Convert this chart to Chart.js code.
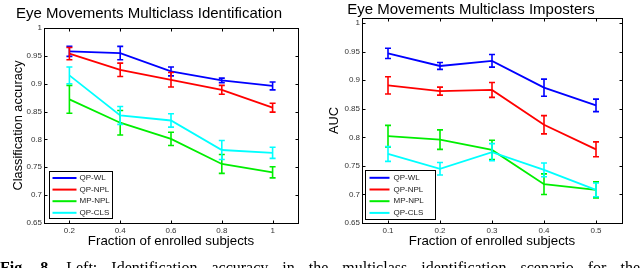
<!DOCTYPE html>
<html><head><meta charset="utf-8">
<script src="https://cdn.jsdelivr.net/npm/chart.js@4.4.1/dist/chart.umd.min.js"></script>
<style>
html,body{margin:0;padding:0;background:#fff;width:640px;height:268px;overflow:hidden;}
canvas{position:absolute;top:0}
#c1{left:0}
#c2{left:320px}
#cap{position:absolute;left:0;top:260px;width:640px;font:16px "Liberation Serif","Times New Roman",serif;line-height:16px;text-align:justify;text-align-last:justify;color:#000;white-space:nowrap}
</style></head>
<body>
<canvas id="c1" width="320" height="268"></canvas>
<canvas id="c2" width="320" height="268"></canvas>
<div id="cap"><b>Fig. 8.</b> Left: Identification accuracy in the multiclass identification scenario for the</div>
<script>
// ---- data: identification (left) ----
const idX = [0.2, 0.4, 0.6, 0.8, 1];
const idXLabels = ['0.2', '0.4', '0.6', '0.8', '1'];
const idQPWL = [0.958, 0.955, 0.922, 0.906, 0.896];
const idQPWLErr = [0.009, 0.012, 0.008, 0.004, 0.007];
const idQPNPL = [0.954, 0.925, 0.907, 0.889, 0.857];
const idQPNPLErr = [0.011, 0.012, 0.013, 0.008, 0.008];
const idMPNPL = [0.872, 0.830, 0.801, 0.756, 0.741];
const idMPNPLErr = [0.025, 0.022, 0.012, 0.017, 0.010];
const idQPCLS = [0.915, 0.843, 0.834, 0.781, 0.776];
const idQPCLSErr = [0.015, 0.016, 0.012, 0.017, 0.010];

// ---- data: imposters (right) ----
const impX = [0.1, 0.2, 0.3, 0.4, 0.5];
const impXLabels = ['0.1', '0.2', '0.3', '0.4', '0.5'];
const impQPWL = [0.947, 0.925, 0.934, 0.887, 0.856];
const impQPWLErr = [0.009, 0.006, 0.011, 0.015, 0.011];
const impQPNPL = [0.891, 0.881, 0.883, 0.822, 0.779];
const impQPNPLErr = [0.015, 0.007, 0.013, 0.016, 0.013];
const impMPNPL = [0.802, 0.796, 0.778, 0.718, 0.708];
const impMPNPLErr = [0.019, 0.017, 0.017, 0.018, 0.014];
const impQPCLS = [0.771, 0.745, 0.774, 0.743, 0.708];
const impQPCLSErr = [0.013, 0.011, 0.015, 0.012, 0.012];

// ---- shared ----
const seriesLabels = ['QP-WL', 'QP-NPL', 'MP-NPL', 'QP-CLS'];
const yTicks = [0.65, 0.7, 0.75, 0.8, 0.85, 0.9, 0.95, 1];
const yTickLabels = ['0.65', '0.7', '0.75', '0.8', '0.85', '0.9', '0.95', '1'];
const colors = ['#0000ff', '#ff0000', '#00ee00', '#00ffff'];

const SANS = '"Liberation Sans", Arial, sans-serif';

const framePlugin = {
  id: 'frame',
  afterDatasetsDraw(chart) {
    const {ctx, chartArea: a, scales: {x, y}} = chart;
    const lg = chart.options.plugins.frameLegend;
    // error bars
    chart.data.datasets.forEach(ds => {
      ctx.save();
      ctx.strokeStyle = ds.borderColor;
      ctx.lineWidth = 1.6;
      ds.data.forEach((p, i) => {
        const px = x.getPixelForValue(p.x);
        const e = ds.errors[i];
        const y1 = y.getPixelForValue(p.y - e), y2 = y.getPixelForValue(p.y + e);
        ctx.beginPath();
        ctx.moveTo(px, y1); ctx.lineTo(px, y2);
        ctx.moveTo(px - 3, y1); ctx.lineTo(px + 3, y1);
        ctx.moveTo(px - 3, y2); ctx.lineTo(px + 3, y2);
        ctx.stroke();
      });
      ctx.restore();
    });
    // frame + inward ticks
    ctx.save();
    ctx.strokeStyle = '#000';
    ctx.lineWidth = 1;
    const L = Math.round(a.left) + 0.5, R = Math.round(a.right) + 0.5;
    const T = Math.round(a.top) + 0.5, B = Math.round(a.bottom) + 0.5;
    ctx.strokeRect(L, T, R - L, B - T);
    ctx.beginPath();
    x.ticks.forEach(t => {
      const px = Math.round(x.getPixelForValue(t.value)) + 0.5;
      ctx.moveTo(px, B); ctx.lineTo(px, B - 3);
      ctx.moveTo(px, T); ctx.lineTo(px, T + 3);
    });
    y.ticks.forEach(t => {
      const py = Math.round(y.getPixelForValue(t.value)) + 0.5;
      ctx.moveTo(L, py); ctx.lineTo(L + 3, py);
      ctx.moveTo(R, py); ctx.lineTo(R - 3, py);
    });
    ctx.stroke();
    // legend box
    const bx = Math.round(a.left + lg.dx) + 0.5, by = Math.round(a.bottom - lg.dy - lg.h) + 0.5;
    ctx.fillStyle = '#fff';
    ctx.fillRect(bx, by, lg.w, lg.h);
    ctx.strokeRect(bx, by, lg.w, lg.h);
    ctx.font = '8px ' + SANS;
    ctx.textBaseline = 'middle';
    ctx.textAlign = 'left';
    chart.data.datasets.forEach((ds, i) => {
      const iy = by + lg.first + i * lg.step;
      ctx.strokeStyle = ds.borderColor;
      ctx.lineWidth = 2;
      ctx.beginPath();
      ctx.moveTo(bx + lg.lx0, iy); ctx.lineTo(bx + lg.lx1, iy);
      ctx.stroke();
      ctx.fillStyle = '#222';
      ctx.fillText(ds.label, bx + lg.tx, iy);
    });
    ctx.restore();
  }
};

function makeChart(id, cfg) {
  const datasets = cfg.series.map((s, i) => ({
    label: seriesLabels[i],
    data: cfg.x.map((xv, j) => ({x: xv, y: s[j]})),
    errors: cfg.errs[i],
    borderColor: colors[i],
    backgroundColor: colors[i],
    borderWidth: 1.8,
    pointRadius: 0,
    tension: 0,
    fill: false,
    order: 3 - i
  }));
  return new Chart(document.getElementById(id), {
    type: 'line',
    data: {datasets},
    options: {
      responsive: false,
      animation: false,
      devicePixelRatio: 1,
      layout: {padding: {left: 0, right: cfg.padRight, top: 0, bottom: 0}},
      plugins: {
        legend: {display: false},
        tooltip: {enabled: false},
        title: {
          display: true, text: cfg.title, color: '#000',
          font: {family: SANS, size: 15, weight: 'normal', lineHeight: 1},
          padding: {top: cfg.titleTop, bottom: cfg.titleBottom}
        },
        frameLegend: cfg.legend
      },
      scales: {
        x: {
          type: 'linear', min: cfg.xMin, max: cfg.xMax,
          afterBuildTicks: s => { s.ticks = cfg.x.map(v => ({value: v})); },
          afterFit: s => { s.height = 45; },
          ticks: {
            callback: (v, i) => cfg.xLabels[i],
            color: '#333', font: {family: SANS, size: 8}, padding: 3,
            maxRotation: 0, autoSkip: false
          },
          grid: {display: false, drawTicks: false},
          border: {display: false},
          title: {
            display: true, text: 'Fraction of enrolled subjects', color: '#000',
            font: {family: SANS, size: 13.3}, padding: {top: 19, bottom: 19}
          }
        },
        y: {
          type: 'linear', min: 0.65, max: cfg.yMax,
          afterBuildTicks: s => { s.ticks = yTicks.map(v => ({value: v})); },
          afterFit: s => { s.width = cfg.yWidth; },
          ticks: {
            callback: (v, i) => yTickLabels[i],
            color: '#333', font: {family: SANS, size: 8}, padding: 2,
            autoSkip: false
          },
          grid: {display: false, drawTicks: false},
          border: {display: false},
          title: {
            display: true, text: cfg.yTitle, color: '#000',
            font: {family: SANS, size: 12.8}, padding: {top: cfg.yTitlePad, bottom: cfg.yTitlePad}
          }
        }
      }
    },
    plugins: [framePlugin]
  });
}

makeChart('c1', {
  title: 'Eye Movements Multiclass Identification',
  x: idX, xLabels: idXLabels, xMin: 0.1, xMax: 1.1, yMax: 1.0,
  series: [idQPWL, idQPNPL, idMPNPL, idQPCLS],
  errs: [idQPWLErr, idQPNPLErr, idMPNPLErr, idQPCLSErr],
  padRight: 22, yWidth: 44, titleTop: 6.4, titleBottom: 6.6,
  yTitle: 'Classification accuracy', yTitlePad: 11.2,
  legend: {dx: 5, dy: 5, w: 63, h: 47, first: 6.5, step: 11.6, lx0: 3, lx1: 27, tx: 30}
});

makeChart('c2', {
  title: 'Eye Movements Multiclass Imposters',
  x: impX, xLabels: impXLabels, xMin: 0.05, xMax: 0.55, yMax: 1.009,
  series: [impQPWL, impQPNPL, impMPNPL, impQPCLS],
  errs: [impQPWLErr, impQPNPLErr, impMPNPLErr, impQPCLSErr],
  padRight: 18, yWidth: 42, titleTop: 2, titleBottom: 1,
  yTitle: 'AUC', yTitlePad: 6.9,
  legend: {dx: 2.5, dy: 4, w: 70, h: 49, first: 7.3, step: 11.7, lx0: 4, lx1: 24, tx: 28}
});
</script>
</body></html>
